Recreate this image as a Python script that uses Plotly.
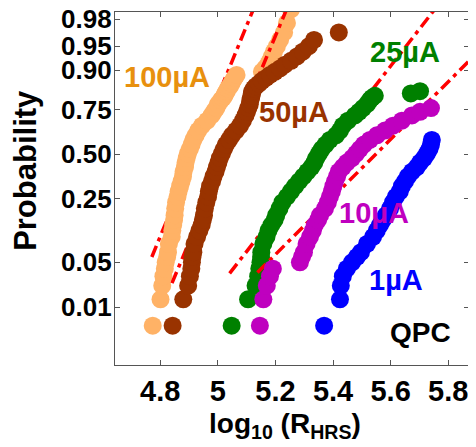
import plotly.graph_objects as go
from statistics import NormalDist

# plotting-position ranks shown (subset of n_samples ranks per distribution)
ranks = [1, 2, 3, 4, 5, 6, 7, 8, 10, 12, 14, 16, 18, 20, 23, 26, 29, 32, 35, 38,
         41, 44, 47, 50, 53, 56, 59, 62, 65, 68, 71, 74, 77, 80, 82, 84, 86, 88, 89, 90,
         91, 92, 93, 94, 95, 96, 97, 98, 99, 100, 101, 102, 103, 104, 105, 106, 107, 108, 109, 110]
n_samples = 110

# log10(R_HRS) values in rank order (values beyond the visible window omitted)
x_100uA = [4.774, 4.801, 4.807, 4.811, 4.816, 4.819, 4.824, 4.827, 4.830, 4.840,
           4.842, 4.845, 4.848, 4.850, 4.852, 4.855, 4.860, 4.864, 4.869, 4.874,
           4.879, 4.881, 4.886, 4.888, 4.892, 4.896, 4.903, 4.909, 4.915, 4.923,
           4.932, 4.945, 4.963, 4.978, 4.986, 4.995, 5.001, 5.011, 5.018, 5.023,
           5.026, 5.031, 5.035, 5.042, 5.047, 5.052, 5.058, 5.065, 5.153, 5.164,
           5.174, 5.181, 5.188, 5.195, 5.205, 5.216, 5.230, 5.240, 5.254]
x_50uA = [4.843, 4.880, 4.897, 4.903, 4.908, 4.910, 4.912, 4.915, 4.919, 4.928,
          4.936, 4.944, 4.948, 4.952, 4.955, 4.960, 4.966, 4.969, 4.973, 4.980,
          4.985, 4.992, 4.997, 5.002, 5.007, 5.014, 5.021, 5.028, 5.039, 5.049,
          5.063, 5.077, 5.087, 5.096, 5.101, 5.106, 5.111, 5.113, 5.115, 5.117,
          5.118, 5.120, 5.125, 5.132, 5.143, 5.153, 5.167, 5.181, 5.198, 5.216,
          5.233, 5.254, 5.275, 5.295, 5.316, 5.334, 5.420]
x_25uA = [5.048, 5.105, 5.131, 5.140, 5.144, 5.148, 5.150, 5.151, 5.158, 5.169,
          5.176, 5.186, 5.197, 5.203, 5.214, 5.224, 5.240, 5.254, 5.268, 5.282,
          5.297, 5.311, 5.325, 5.335, 5.342, 5.351, 5.361, 5.374, 5.389, 5.410,
          5.424, 5.434, 5.452, 5.476, 5.490, 5.504, 5.518, 5.528, 5.535, 5.545,
          5.670, 5.702]
x_10uA = [5.146, 5.158, 5.170, 5.181, 5.191, 5.285, 5.292, 5.299, 5.308, 5.320,
          5.330, 5.337, 5.348, 5.355, 5.372, 5.382, 5.389, 5.396, 5.401, 5.407,
          5.414, 5.420, 5.434, 5.448, 5.466, 5.480, 5.493, 5.507, 5.528, 5.552,
          5.580, 5.608, 5.639, 5.674, 5.702, 5.740]
x_1uA = [5.369, 5.424, 5.427, 5.434, 5.448, 5.466, 5.483, 5.497, 5.518, 5.539,
         5.552, 5.563, 5.573, 5.584, 5.598, 5.608, 5.618, 5.632, 5.639, 5.650,
         5.660, 5.674, 5.691, 5.702, 5.716, 5.726, 5.735, 5.740, 5.743]

series_labels = ["100µA", "50µA", "25µA", "10µA", "1µA"]
marker_colors = ["#FFB266", "#993300", "#008000", "#BF00BF", "#0000FF"]
label_colors = ["#E8900E", "#993300", "#008000", "#BF00BF", "#0000FF"]
label_x = [4.823, 5.264, 5.650, 5.542, 5.618]
label_p = [0.880, 0.740, 0.940, 0.186, 0.028]

# normal fits (mean, sigma of log10 R) for the four highest currents
fit_mu = [4.917, 5.028, 5.362, 5.548]
fit_sigma = [0.0935, 0.0955, 0.1772, 0.2282]
fit_p_start = [0.059, 0.025, 0.035, 0.036]
fit_p_end = 0.99

prob_ticks = [0.01, 0.05, 0.25, 0.50, 0.75, 0.90, 0.95, 0.98]
prob_tick_text = ["0.01", "0.05", "0.25", "0.50", "0.75", "0.90", "0.95", "0.98"]
x_ticks = [4.8, 5.0, 5.2, 5.4, 5.6, 5.8]
x_tick_text = ["4.8", "5", "5.2", "5.4", "5.6", "5.8"]

nd = NormalDist()
probit = nd.inv_cdf

FONT = "Liberation Sans, Arial, sans-serif"
fig = go.Figure()
all_x = [x_100uA, x_50uA, x_25uA, x_10uA, x_1uA]
for i, xs in enumerate(all_x):
    if i < len(fit_mu):
        z0 = probit(fit_p_start[i])
        z1 = probit(fit_p_end)
        fig.add_trace(go.Scatter(
            x=[fit_mu[i] + fit_sigma[i] * z0, fit_mu[i] + fit_sigma[i] * z1],
            y=[z0, z1], mode="lines",
            line=dict(color="#FF0000", width=3.5, dash="12px,5px,4px,5px"),
            hoverinfo="skip"))
    zs = [probit((r - 0.5) / n_samples) for r in ranks[:len(xs)]]
    fig.add_trace(go.Scatter(
        x=xs, y=zs, mode="markers", name=series_labels[i],
        marker=dict(size=18, color=marker_colors[i], line=dict(width=0))))

for i, lab in enumerate(series_labels):
    fig.add_annotation(x=label_x[i], y=probit(label_p[i]), text=lab, showarrow=False,
                       xanchor="center", yanchor="middle",
                       font=dict(family=FONT, size=29, color=label_colors[i], weight="bold"))
fig.add_annotation(x=5.705, y=probit(0.00327), text="QPC", showarrow=False,
                   xanchor="center", yanchor="middle",
                   font=dict(family=FONT, size=28, color="black", weight="bold"))

fig.add_annotation(xref="paper", yref="paper", x=-0.255, y=0.552, text="Probability",
                   textangle=-90, showarrow=False, xanchor="center", yanchor="middle",
                   font=dict(family=FONT, size=31, color="black", weight="bold"))
fig.add_annotation(xref="paper", yref="paper", x=0.48, y=-0.17,
                   text="log<sub>10</sub> (R<sub>HRS</sub>)", showarrow=False,
                   xanchor="center", yanchor="middle",
                   font=dict(family=FONT, size=28, color="black", weight="bold"))

axis_common = dict(showline=True, linecolor="#555555", linewidth=1.3, mirror="ticks",
                   ticks="inside", ticklen=5, tickcolor="#555555", tickwidth=1.2,
                   showgrid=False, zeroline=False, automargin=False,
                   ticklabeloverflow="allow")
fig.update_xaxes(range=[4.643, 5.872], tickvals=x_ticks, ticktext=x_tick_text,
                 tickfont=dict(family=FONT, size=29, color="black", weight="bold"),
                 **axis_common)
fig.update_yaxes(range=[-3.207, 2.166], tickvals=[probit(p) for p in prob_ticks],
                 ticktext=prob_tick_text, ticklabelstandoff=-3,
                 tickfont=dict(family=FONT, size=26, color="black", weight="bold"),
                 **axis_common)

# the page body adds an 8 px offset, so the figure is 8 px smaller than the window
fig.update_layout(width=468, height=439, showlegend=False,
                  margin=dict(l=107, r=7, t=4, b=82),
                  paper_bgcolor="white", plot_bgcolor="white")
fig.write_html("out.html")
